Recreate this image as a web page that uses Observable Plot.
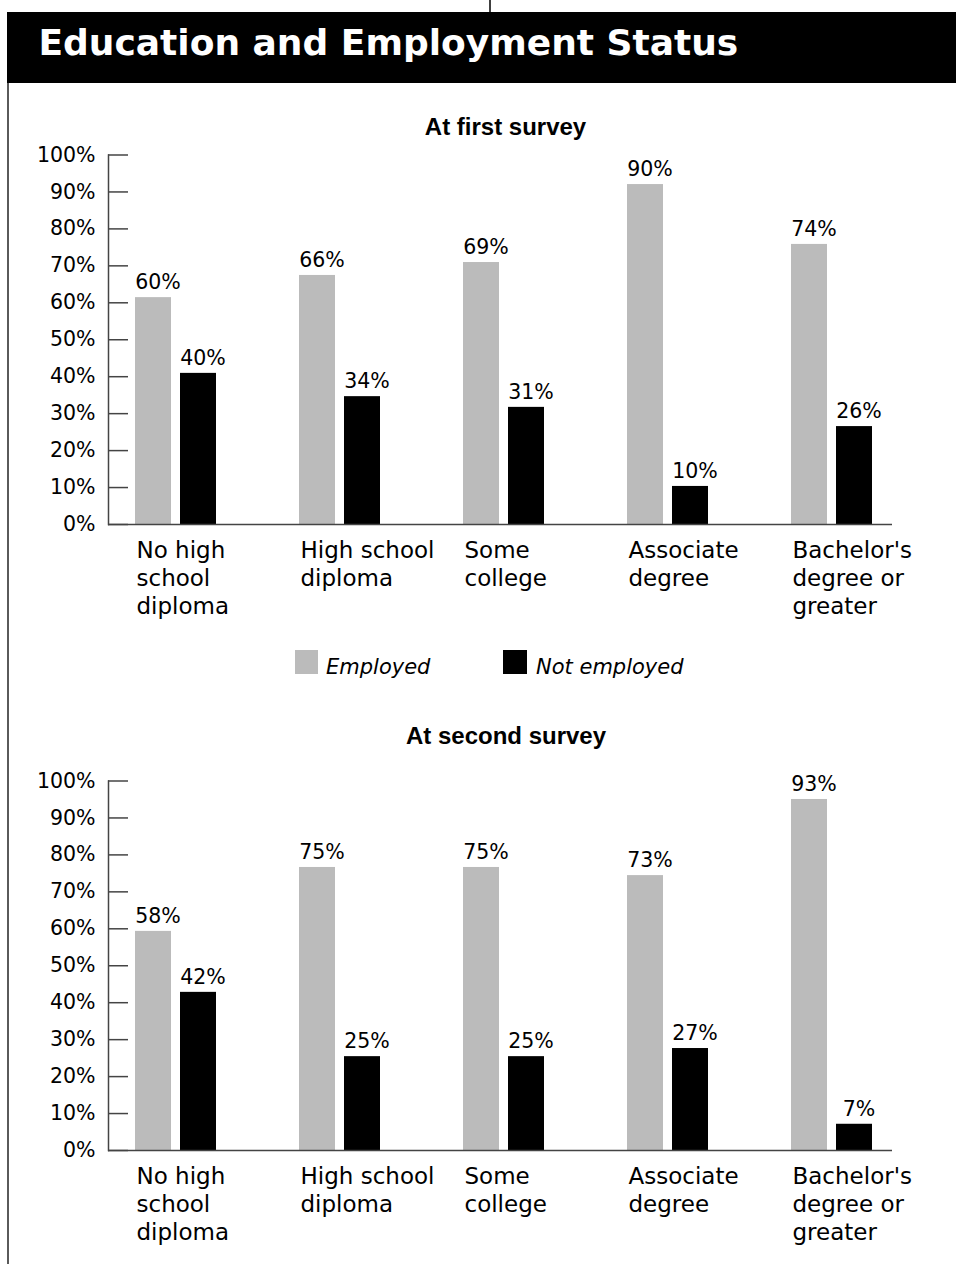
<!DOCTYPE html>
<html>
<head>
<meta charset="utf-8">
<script src="https://cdn.jsdelivr.net/npm/d3@7"></script>
<script src="https://cdn.jsdelivr.net/npm/@observablehq/plot@0.6"></script>
<style>
  html, body { margin: 0; padding: 0; background: #fff; }
  #page { position: relative; width: 956px; height: 1264px; overflow: hidden; background: #fff; }
  .chart { position: absolute; left: 0; width: 956px; }
  #overlay { position: absolute; left: 0; top: 0; pointer-events: none; z-index: 5; }
</style>
</head>
<body>
<div id="page">
  <div id="chart1" class="chart" style="top:140px"></div>
  <div id="chart2" class="chart" style="top:766px"></div>
  <svg id="overlay" width="956" height="1264" xmlns="http://www.w3.org/2000/svg">
    <line x1="490" y1="0" x2="490" y2="12" stroke="#000" stroke-width="1.5"/>
    <rect x="7" y="12" width="949" height="71" fill="#000"/>
    <text x="38.5" y="55" fill="#fff" font-family="DejaVu Sans" font-weight="bold" font-size="36">Education and Employment Status</text>
    <rect x="7" y="83" width="2" height="1181" fill="#5a5a5a"/>
    <text x="505.5" y="135" text-anchor="middle" font-family="Liberation Sans" font-weight="bold" font-size="24" fill="#000">At first survey</text>
    <text x="506" y="744" text-anchor="middle" font-family="Liberation Sans" font-weight="bold" font-size="24" fill="#000">At second survey</text>
    <rect x="295" y="650" width="23" height="24" fill="#bbbbbb"/>
    <text x="326" y="673.5" font-family="DejaVu Sans" font-style="italic" font-size="21" fill="#000">Employed</text>
    <rect x="503" y="650" width="24" height="24" fill="#000"/>
    <text x="536" y="673.5" font-family="DejaVu Sans" font-style="italic" font-size="21" fill="#000">Not employed</text>
  </svg>
</div>
<script>
// ---- Data ----
const categories = [
  "No high\nschool\ndiploma",
  "High school\ndiploma",
  "Some\ncollege",
  "Associate\ndegree",
  "Bachelor's\ndegree or\ngreater"
];
const yTicks = [0, 10, 20, 30, 40, 50, 60, 70, 80, 90, 100];

// At first survey (bar heights as drawn, and printed labels)
const employed1 = [61.4, 67.4, 70.9, 92.0, 75.8];
const notEmployed1 = [40.9, 34.6, 31.7, 10.3, 26.5];
const employed1Labels = ["60%", "66%", "69%", "90%", "74%"];
const notEmployed1Labels = ["40%", "34%", "31%", "10%", "26%"];

// At second survey
const employed2 = [59.3, 76.6, 76.6, 74.4, 95.0];
const notEmployed2 = [42.8, 25.4, 25.4, 27.6, 7.1];
const employed2Labels = ["58%", "75%", "75%", "73%", "93%"];
const notEmployed2Labels = ["42%", "25%", "25%", "27%", "7%"];

const GRAY = "#bbbbbb";
const AXIS = "#444444";

function rowsOf(values, labels) {
  return categories.map((c, i) => ({category: c, value: values[i], label: labels[i]}));
}

function makeChart(emp, empLab, ne, neLab) {
  const empRows = rowsOf(emp, empLab);
  const neRows = rowsOf(ne, neLab);
  return Plot.plot({
    width: 956,
    height: 490,
    marginLeft: 108,
    marginRight: 64,
    marginTop: 14.5,
    marginBottom: 106,
    style: {background: "transparent", overflow: "visible", color: "#000", fontFamily: "DejaVu Sans"},
    x: {domain: categories, range: [135, 872], paddingInner: 1 - 81 / 164, paddingOuter: 0, align: 0.5, round: false, axis: null},
    y: {domain: [0, 100], axis: null},
    marks: [
      Plot.barY(empRows, {x: "category", y: "value", fill: GRAY, insetRight: 45}),
      Plot.barY(neRows, {x: "category", y: "value", fill: "#000", insetLeft: 45}),
      Plot.ruleY([0], {stroke: AXIS, strokeWidth: 1.5}),
      Plot.frame({anchor: "left", stroke: AXIS, strokeWidth: 1.5}),
      Plot.tickY(yTicks, {y: d => d, stroke: AXIS, strokeWidth: 1.5, insetRight: 764}),
      Plot.axisY({ticks: yTicks, label: null, tickSize: 0, tickPadding: 13, tickFormat: d => d + "%", fontSize: 20.5, fill: "#000"}),
      Plot.text(empRows, {x: "category", y: "value", text: "label", dx: -18, dy: -15, fontSize: 20.5, fill: "#000"}),
      Plot.text(neRows, {x: "category", y: "value", text: "label", dx: 27, dy: -15, fontSize: 20.5, fill: "#000"}),
      Plot.text(categories, {x: d => d, frameAnchor: "bottom", text: d => d, textAnchor: "start", lineAnchor: "top", dx: -39.5, dy: 13.7, lineHeight: 28 / 23, fontSize: 23, fill: "#000"})
    ]
  });
}

document.getElementById("chart1").appendChild(makeChart(employed1, employed1Labels, notEmployed1, notEmployed1Labels));
document.getElementById("chart2").appendChild(makeChart(employed2, employed2Labels, notEmployed2, notEmployed2Labels));
</script>
</body>
</html>
